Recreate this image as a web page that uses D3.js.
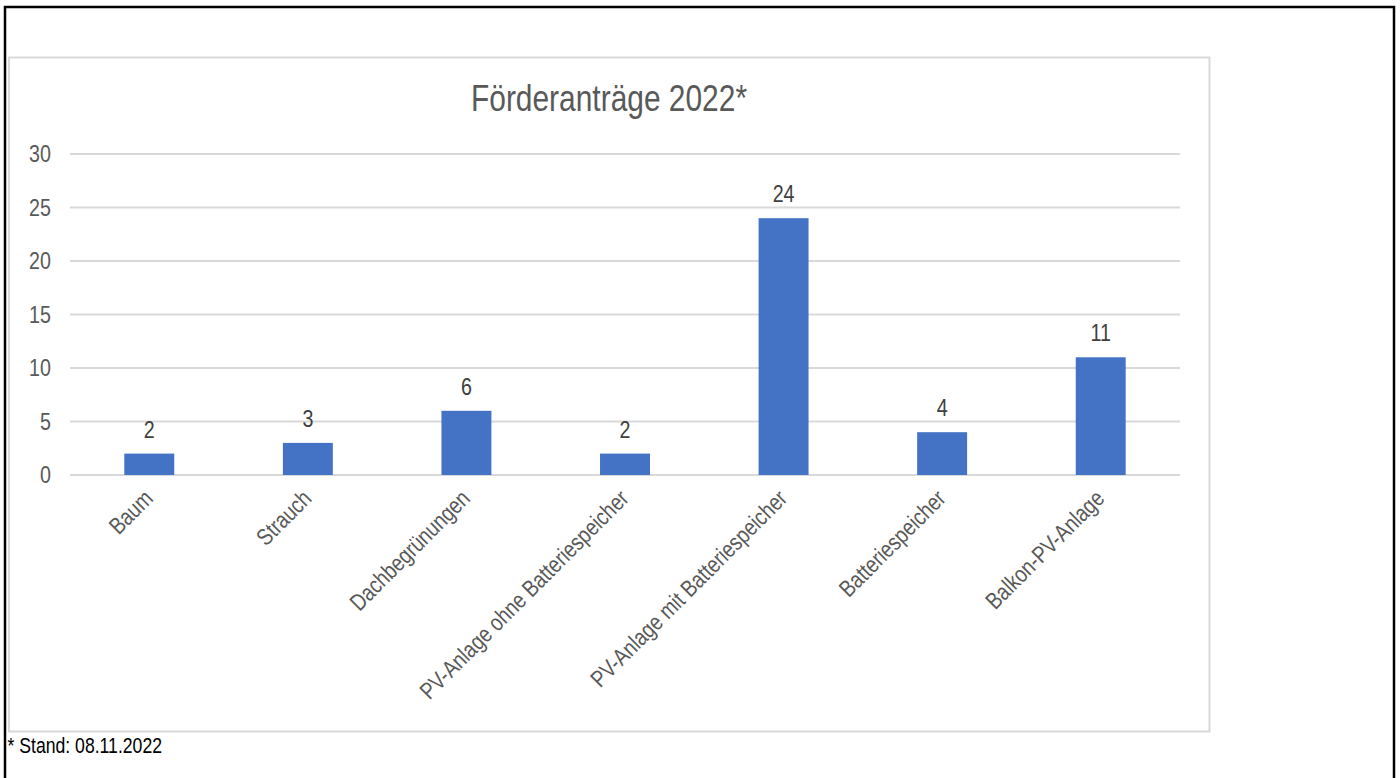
<!DOCTYPE html>
<html>
<head>
<meta charset="utf-8">
<script src="https://cdn.jsdelivr.net/npm/d3@7"></script>
<style>
  html, body { margin: 0; padding: 0; background: #fff; }
  svg { display: block; }
  text { font-family: "Liberation Sans", Arial, sans-serif; }
</style>
</head>
<body>
<svg id="chart" width="1400" height="778"></svg>
<script>
// Funding applications 2022 by measure
const categories = [
  "Baum",
  "Strauch",
  "Dachbegrünungen",
  "PV-Anlage ohne Batteriespeicher",
  "PV-Anlage mit Batteriespeicher",
  "Batteriespeicher",
  "Balkon-PV-Anlage"
];
const counts = [2, 3, 6, 2, 24, 4, 11];
const yTicks = [0, 5, 10, 15, 20, 25, 30];
const titleText = "Förderanträge 2022*";
const footnoteText = "* Stand: 08.11.2022";

const W = 1400, H = 778;
const narrow = 0.82;           // horizontal squeeze for a narrow sans look
const plot = { left: 70, right: 1180, top: 154, bottom: 475 };

const svg = d3.select("#chart");

// outer frame (open at the bottom edge of the page)
svg.append("rect")
  .attr("x", 5).attr("y", 7)
  .attr("width", 1389).attr("height", 820)
  .attr("fill", "none").attr("stroke", "#000").attr("stroke-width", 2.5);

// chart area frame
svg.append("rect")
  .attr("x", 9).attr("y", 57.5)
  .attr("width", 1200.5).attr("height", 674)
  .attr("fill", "#fff").attr("stroke", "#d9d9d9").attr("stroke-width", 2);

const x = d3.scaleBand()
  .domain(categories)
  .range([plot.left, plot.right])
  .paddingInner(0.685)
  .paddingOuter(0.3425);

const y = d3.scaleLinear()
  .domain([0, 30])
  .range([plot.bottom, plot.top]);

// title
svg.append("text")
  .attr("transform", `translate(609,111) scale(${narrow},1)`)
  .attr("text-anchor", "middle")
  .attr("font-size", 36.5)
  .attr("fill", "#595959")
  .text(titleText);

// horizontal gridlines
svg.append("g")
  .selectAll("line")
  .data(yTicks)
  .join("line")
  .attr("x1", plot.left).attr("x2", plot.right)
  .attr("y1", d => y(d)).attr("y2", d => y(d))
  .attr("stroke", "#d9d9d9").attr("stroke-width", 2);

// y tick labels
svg.append("g")
  .selectAll("text")
  .data(yTicks)
  .join("text")
  .attr("transform", d => `translate(51,${y(d) + 8}) scale(${narrow},1)`)
  .attr("text-anchor", "end")
  .attr("font-size", 24)
  .attr("fill", "#595959")
  .text(d => d);

// bars
svg.append("g")
  .selectAll("rect")
  .data(categories)
  .join("rect")
  .attr("x", d => x(d))
  .attr("width", x.bandwidth())
  .attr("y", (d, i) => y(counts[i]))
  .attr("height", (d, i) => y(0) - y(counts[i]))
  .attr("fill", "#4472c4");

// value labels above bars
svg.append("g")
  .selectAll("text")
  .data(categories)
  .join("text")
  .attr("transform", (d, i) =>
    `translate(${x(d) + x.bandwidth() / 2},${y(counts[i]) - 16}) scale(${narrow},1)`)
  .attr("text-anchor", "middle")
  .attr("font-size", 24)
  .attr("fill", "#404040")
  .text((d, i) => counts[i]);

// rotated category labels
svg.append("g")
  .selectAll("text")
  .data(categories)
  .join("text")
  .attr("transform", d =>
    `translate(${x(d) + x.bandwidth() / 2 + 5},${plot.bottom + 25}) rotate(-45) scale(${narrow},1)`)
  .attr("text-anchor", "end")
  .attr("font-size", 23.5)
  .attr("fill", "#595959")
  .text(d => d);

// footnote
svg.append("text")
  .attr("transform", `translate(7.5,752.5) scale(${narrow},1)`)
  .attr("font-size", 21.5)
  .attr("fill", "#000")
  .text(footnoteText);
</script>
</body>
</html>
